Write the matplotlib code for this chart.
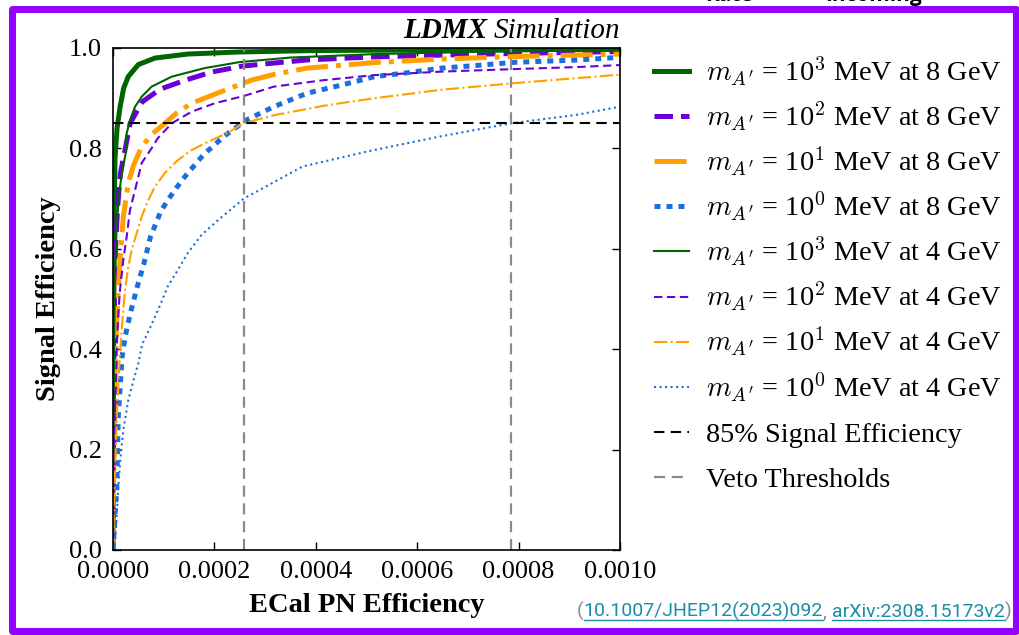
import matplotlib
matplotlib.use("Agg")
import matplotlib.pyplot as plt
from matplotlib.patches import Rectangle
from matplotlib.lines import Line2D

#DATA (x = ECal PN efficiency, y = signal efficiency)
g8_x = [0, 1e-6, 2e-6, 3e-6, 4e-6, 8e-6, 1.4e-5, 2.1e-5, 3.0e-5, 5.0e-5, 8.3e-5, 1.48e-4, 2.47e-4, 4e-4, 6e-4, 8e-4, 1e-3]
g8_y = [0, 0.35, 0.6, 0.72, 0.78, 0.84, 0.883, 0.92, 0.943, 0.967, 0.98, 0.988, 0.992, 0.995, 0.996, 0.997, 0.997]

p8_x = [0, 2e-6, 5e-6, 9e-6, 1.45e-5, 2.43e-5, 3.38e-5, 5.8e-5, 9.3e-5, 1.43e-4, 1.94e-4, 2.55e-4, 3.8e-4, 5.07e-4, 6.5e-4, 7.85e-4, 1e-3]
p8_y = [0, 0.45, 0.6, 0.68, 0.75, 0.80, 0.85, 0.893, 0.918, 0.936, 0.952, 0.964, 0.976, 0.982, 0.986, 0.989, 0.993]

o8_x = [0, 3e-6, 6e-6, 9.3e-6, 1.38e-5, 2.03e-5, 3.0e-5, 4.0e-5, 5.5e-5, 7.5e-5, 9.9e-5, 1.25e-4, 1.55e-4, 2.21e-4, 2.73e-4, 3.2e-4, 3.83e-4, 5.16e-4, 6.49e-4, 7.9e-4, 1e-3]
o8_y = [0, 0.3, 0.42, 0.498, 0.578, 0.664, 0.73, 0.765, 0.80, 0.827, 0.847, 0.87, 0.89, 0.916, 0.936, 0.948, 0.96, 0.971, 0.978, 0.983, 0.988]

b8_x = [0, 3e-6, 5e-6, 7.3e-6, 9.3e-6, 1.05e-5, 1.38e-5, 1.8e-5, 2.4e-5, 3.4e-5, 4.8e-5, 6.1e-5, 7.4e-5, 9.4e-5, 1.08e-4, 1.27e-4, 1.42e-4, 1.78e-4, 2.2e-4, 2.64e-4, 3.17e-4, 3.83e-4, 4.5e-4, 5.16e-4, 5.83e-4, 6.49e-4, 7.15e-4, 7.92e-4, 9.15e-4, 1e-3]
b8_y = [0, 0.05, 0.09, 0.12, 0.219, 0.266, 0.319, 0.385, 0.425, 0.471, 0.525, 0.571, 0.624, 0.674, 0.697, 0.724, 0.744, 0.787, 0.825, 0.857, 0.883, 0.91, 0.926, 0.943, 0.951, 0.96, 0.965, 0.9715, 0.976, 0.9815]

g4_x = [0, 2e-6, 4e-6, 7e-6, 1.1e-5, 1.6e-5, 2.1e-5, 2.5e-5, 2.7e-5, 3.35e-5, 4.34e-5, 5.66e-5, 7.61e-5, 1.16e-4, 1.81e-4, 2.5e-4, 3.5e-4, 5.2e-4, 7e-4, 8.5e-4, 1e-3]
g4_y = [0, 0.4, 0.55, 0.64, 0.7, 0.74, 0.77, 0.79, 0.83, 0.856, 0.883, 0.903, 0.923, 0.943, 0.96, 0.972, 0.981, 0.988, 0.992, 0.994, 0.995]

p4_x = [0, 2.5e-6, 5e-6, 8e-6, 1.1e-5, 1.38e-5, 2.03e-5, 2.7e-5, 3.35e-5, 4.67e-5, 5.66e-5, 7.6e-5, 8.8e-5, 1.16e-4, 1.55e-4, 2.01e-4, 2.6e-4, 3.17e-4, 4.16e-4, 5.16e-4, 6.49e-4, 7.92e-4, 9.15e-4, 1e-3]
p4_y = [0, 0.15, 0.3, 0.42, 0.48, 0.518, 0.578, 0.624, 0.677, 0.73, 0.771, 0.80, 0.82, 0.85, 0.873, 0.89, 0.905, 0.923, 0.936, 0.946, 0.953, 0.958, 0.962, 0.966]

o4_x = [0, 3e-6, 6e-6, 9e-6, 1.3e-5, 1.8e-5, 2.37e-5, 3.02e-5, 3.69e-5, 4.67e-5, 5.66e-5, 6.96e-5, 8.28e-5, 1.03e-4, 1.26e-4, 1.52e-4, 1.81e-4, 2.28e-4, 2.57e-4, 3.17e-4, 4.16e-4, 5.16e-4, 6.49e-4, 7.92e-4, 9.15e-4, 1e-3]
o4_y = [0, 0.12, 0.22, 0.3, 0.38, 0.45, 0.518, 0.564, 0.598, 0.631, 0.664, 0.697, 0.724, 0.752, 0.775, 0.795, 0.81, 0.832, 0.85, 0.866, 0.885, 0.90, 0.917, 0.93, 0.94, 0.947]

b4_x = [2e-6, 5.9e-6, 9.3e-6, 1.38e-5, 2.03e-5, 3.02e-5, 4.1e-5, 5.0e-5, 5.76e-5, 7.2e-5, 9.43e-5, 1.08e-4, 1.28e-4, 1.47e-4, 1.74e-4, 2.07e-4, 2.58e-4, 3.74e-4, 5.07e-4, 6.41e-4, 7.85e-4, 9.15e-4, 1e-3]
b4_y = [0, 0.04, 0.106, 0.173, 0.239, 0.299, 0.34, 0.372, 0.41, 0.44, 0.491, 0.525, 0.558, 0.591, 0.627, 0.657, 0.70, 0.764, 0.795, 0.823, 0.85, 0.867, 0.883]

labels = [
    r"$m_{A'}$ = 10$^{3}$ MeV at 8 GeV",
    r"$m_{A'}$ = 10$^{2}$ MeV at 8 GeV",
    r"$m_{A'}$ = 10$^{1}$ MeV at 8 GeV",
    r"$m_{A'}$ = 10$^{0}$ MeV at 8 GeV",
    r"$m_{A'}$ = 10$^{3}$ MeV at 4 GeV",
    r"$m_{A'}$ = 10$^{2}$ MeV at 4 GeV",
    r"$m_{A'}$ = 10$^{1}$ MeV at 4 GeV",
    r"$m_{A'}$ = 10$^{0}$ MeV at 4 GeV",
]
sig_cut = 0.85
veto_x = [2.58e-4, 7.85e-4]
x_ticks = [0, 0.0002, 0.0004, 0.0006, 0.0008, 0.0010]
y_ticks = [0.0, 0.2, 0.4, 0.6, 0.8, 1.0]

#STYLE
green, purple, orange, blue = "#006400", "#6a00d8", "#ff9f00", "#1a6fdc"
W, H = 1019, 635
plt.rcParams["font.family"] = ["Liberation Serif", "DejaVu Serif"]
plt.rcParams["mathtext.fontset"] = "cm"

fig = plt.figure(figsize=(W / 100, H / 100), dpi=100)
ax = fig.add_axes([113 / W, 1 - 550 / H, 507 / W, 502 / H])

curves = [
    (g8_x, g8_y, green, 3.6, "-"),
    (p8_x, p8_y, purple, 3.6, "--"),
    (o8_x, o8_y, orange, 3.6, "-."),
    (b8_x, b8_y, blue, 3.6, (0, (1.2, 1.2))),
    (g4_x, g4_y, green, 1.5, "-"),
    (p4_x, p4_y, purple, 1.5, (0, (4, 2.2))),
    (o4_x, o4_y, orange, 1.5, "-."),
    (b4_x, b4_y, blue, 1.5, ":"),
]
for (x, y, c, lw, ls), lab in zip(curves, labels):
    ax.plot(x, y, color=c, lw=lw, ls=ls, label=lab)

ax.axhline(sig_cut, color="black", lw=1.5, ls=(0, (5, 3)), label="85% Signal Efficiency")
for i, v in enumerate(veto_x):
    ax.axvline(v, color="#8a8a8a", lw=1.6, ls=(0, (5, 3)), label="Veto Thresholds" if i == 0 else None)

ax.set_xlim(0, 0.001)
ax.set_ylim(0, 1.0)
ax.set_xticks(x_ticks)
ax.set_xticklabels([f"{v:.4f}" for v in x_ticks])
ax.set_yticks(y_ticks)
ax.set_yticklabels([f"{v:.1f}" for v in y_ticks])
ax.tick_params(direction="in", top=True, right=True, length=6, width=1, labelsize=19, pad=8)
for s in ax.spines.values():
    s.set_linewidth(1.2)
ax.set_xlabel("ECal PN Efficiency", fontsize=20.5, fontweight="bold", labelpad=7)
ax.set_ylabel("Signal Efficiency", fontsize=20.5, fontweight="bold", labelpad=6)

#LEGEND (curves block + reference-line block)
handles, labs = ax.get_legend_handles_labels()
fig.legend(handles[:8], labs[:8], loc="upper left", bbox_to_anchor=(654 / W, 1 - 54 / H),
           frameon=False, fontsize=20.3, handlelength=1.25, handletextpad=0.6,
           labelspacing=0.41, borderpad=0, borderaxespad=0)
fig.legend(handles[8:], labs[8:], loc="upper left", bbox_to_anchor=(654 / W, 1 - 422 / H),
           frameon=False, fontsize=20.3, handlelength=1.25, handletextpad=0.6,
           labelspacing=0.68, borderpad=0, borderaxespad=0)

#TITLE (bold italic + italic)
renderer = fig.canvas.get_renderer()
t2 = fig.text(620 / W, 1 - 38 / H, "Simulation", style="italic", fontsize=21, ha="right", va="baseline")
w2 = t2.get_window_extent(renderer).width
fig.text((620 - w2 - 6) / W, 1 - 38 / H, "LDMX", style="italic", fontweight="bold", fontsize=21, ha="right", va="baseline")

#FRAME
fig.text(705 / W, 1 - 1 / H, "Rate", fontsize=15, fontweight="bold", family="Open Sans", va="baseline", zorder=0)
fig.text(825 / W, 1 - 1 / H, "Incoming", fontsize=15, fontweight="bold", family="Open Sans", va="baseline", zorder=0)
fig.add_artist(Rectangle((11.5 / W, 1 - 630.5 / H), (1016 - 11.5) / W, (630.5 - 8.5) / H,
                         transform=fig.transFigure, fill=False, edgecolor="#9300ff", lw=5,
                         joinstyle="round", zorder=5))

#CITATION
runs = [("(", "#8a8a8a", False), ("10.1007/JHEP12(2023)092", "#1a8ea6", True), (", ", "#8a8a8a", False),
        ("arXiv:2308.15173v2", "#1a8ea6", True), (")", "#8a8a8a", False)]
xpos = 577
for s, col, ul in runs:
    t = fig.text(xpos / W, 1 - 617 / H, s, color=col, fontsize=14, family="Roboto", va="baseline")
    bb = t.get_window_extent(renderer)
    if ul:
        fig.add_artist(Line2D([bb.x0 / W, bb.x1 / W], [(H - 620) / H] * 2, color=col, lw=1.0,
                              transform=fig.transFigure))
    xpos += bb.width

fig.savefig("out.png", dpi=100)
